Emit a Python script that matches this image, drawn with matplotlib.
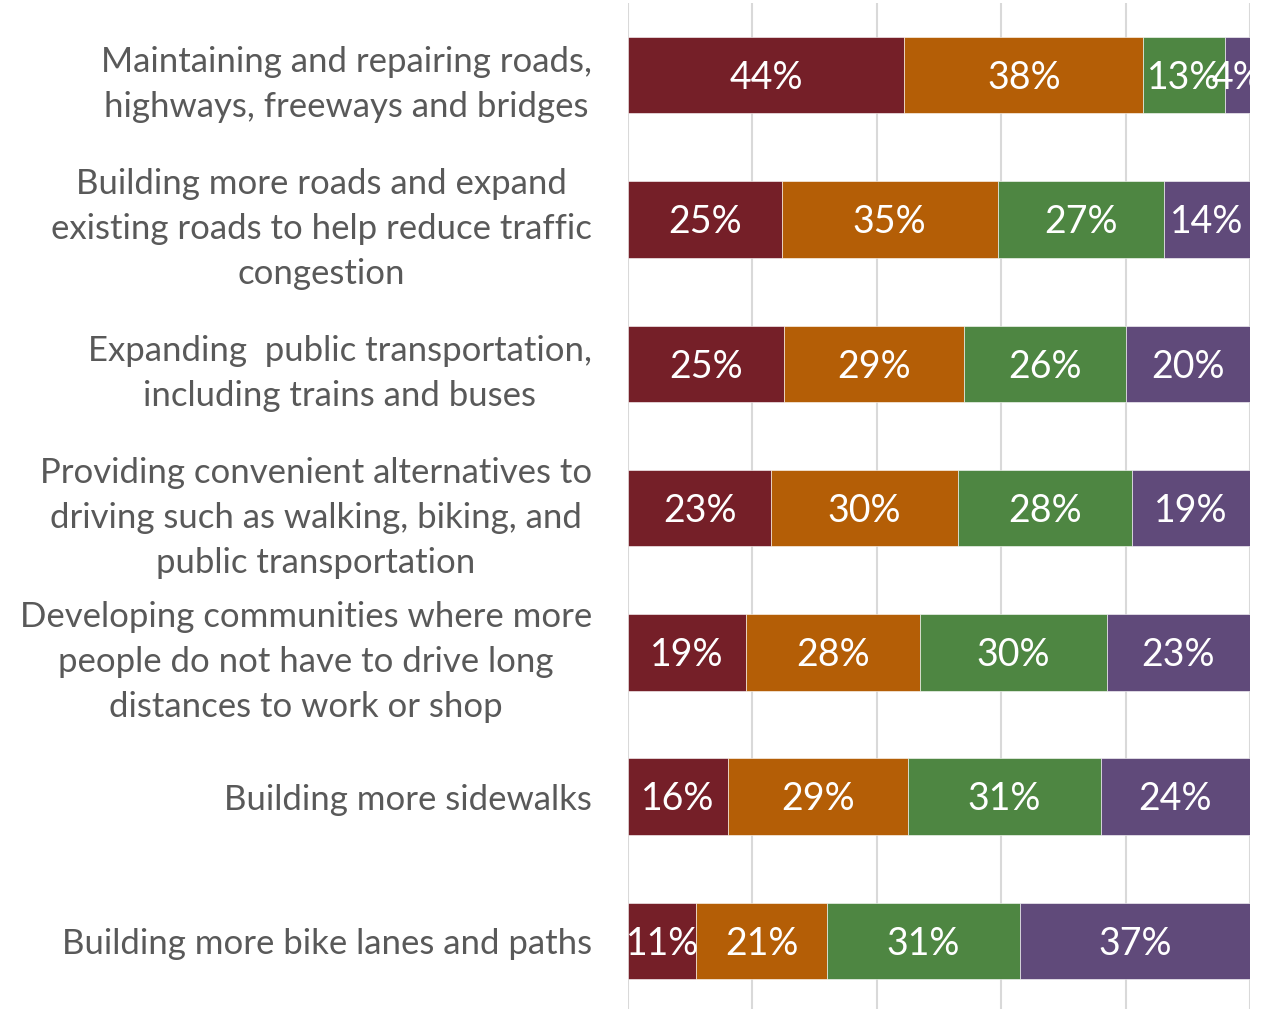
import matplotlib.pyplot as plt
import numpy as np

categories = [
    "Maintaining and repairing roads,\nhighways, freeways and bridges",
    "Building more roads and expand\nexisting roads to help reduce traffic\ncongestion",
    "Expanding  public transportation,\nincluding trains and buses",
    "Providing convenient alternatives to\ndriving such as walking, biking, and\npublic transportation",
    "Developing communities where more\npeople do not have to drive long\ndistances to work or shop",
    "Building more sidewalks",
    "Building more bike lanes and paths",
]
s1 = [44, 25, 25, 23, 19, 16, 11]
s2 = [38, 35, 29, 30, 28, 29, 21]
s3 = [13, 27, 26, 28, 30, 31, 31]
s4 = [4, 14, 20, 19, 23, 24, 37]
colors = ['#751F28', '#B45E06', '#4E8642', '#604A7A']

plt.rcParams['font.family'] = ['Lato', 'DejaVu Sans']

fig = plt.figure(figsize=(12.63, 10.09), dpi=100)
ax = fig.add_axes([628 / 1263, -0.004, 622 / 1263, 1.001])

data = np.array([s1, s2, s3, s4], dtype=float)
shares = data / data.sum(axis=0)
y = np.arange(len(categories))
left = np.zeros(len(categories))
for i in range(4):
    bars = ax.barh(y, shares[i], left=left, height=0.53, color=colors[i],
                   edgecolor='white', linewidth=0.4, zorder=2)
    for j, b in enumerate(bars):
        ax.text(left[j] + shares[i][j] / 2, y[j] + 0.02, f"{int(data[i][j])}%",
                ha='center', va='center', color='white', fontsize=27, zorder=3,
                clip_on=False)
    left += shares[i]

ax.set_xlim(0, 1)
ax.set_ylim(len(categories) - 0.5, -0.5)
ax.set_xticks(np.arange(0, 1.01, 0.2))
ax.xaxis.grid(True, color='#D9D9D9', linewidth=1.5, zorder=0)
ax.set_axisbelow(True)
ax.tick_params(axis='x', length=0, labelbottom=False)
ax.set_yticks(y)
ax.set_yticklabels(categories, fontsize=25, color='#595959',
                   multialignment='center', linespacing=1.5)
ax.tick_params(axis='y', length=0, pad=26)
for sp in ax.spines.values():
    sp.set_visible(False)

fig.savefig('out.png', dpi=100)
